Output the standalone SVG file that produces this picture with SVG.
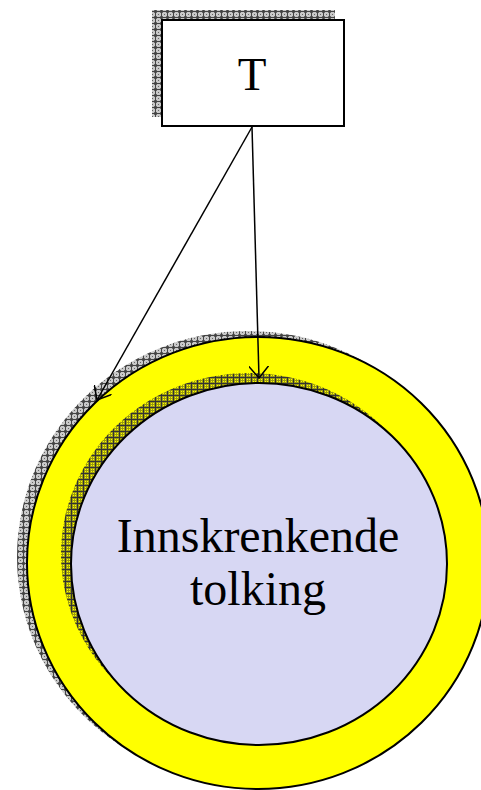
<svg xmlns="http://www.w3.org/2000/svg" width="481" height="790" viewBox="0 0 481 790">
  <defs>
    <pattern id="greyShade" width="6" height="6" patternUnits="userSpaceOnUse">
      <rect width="6" height="6" fill="#c8c8c8"/>
      <rect x="0" y="0" width="1" height="1" fill="#666"/>
      <rect x="2" y="2" width="1" height="1" fill="#666"/>
      <rect x="4" y="4" width="1" height="1" fill="#666"/>
      <rect x="4" y="0" width="1" height="1" fill="#666"/>
      <rect x="0" y="4" width="1" height="1" fill="#666"/>
      <path d="M0 5.5H6M5.5 0V6" stroke="#444" stroke-width="1"/>
    </pattern>
    <pattern id="yellowShade" width="6" height="6" patternUnits="userSpaceOnUse">
      <rect width="6" height="6" fill="#9a9a10"/>
      <rect x="1" y="1" width="1" height="1" fill="#ffff00"/>
      <rect x="3" y="3" width="1" height="1" fill="#ffff00"/>
      <rect x="1" y="3" width="1" height="1" fill="#ffff00"/>
      <rect x="3" y="1" width="1" height="1" fill="#ffff00"/>
      <path d="M0 5.5H6M5.5 0V6" stroke="#333" stroke-width="1"/>
    </pattern>
    <marker id="openArrow" markerWidth="14" markerHeight="20" refX="12" refY="10" orient="auto" markerUnits="userSpaceOnUse">
      <path d="M0 0 L12 10 L0 20" fill="none" stroke="#000" stroke-width="1.5"/>
    </marker>
    <style>
      .label { font-family: "Liberation Serif", "Times New Roman", serif; fill: #000; text-anchor: middle; }
      .edge { stroke: #000; stroke-width: 1.5; fill: none; marker-end: url(#openArrow); }
    </style>
  </defs>

  <g id="node-T">
    <rect x="152" y="10" width="183" height="107" fill="url(#greyShade)"/>
    <rect x="162" y="20" width="182" height="106" fill="#fff" stroke="#000" stroke-width="2"/>
    <text class="label" x="252" y="90" font-size="47">T</text>
  </g>

  <g id="node-outer">
    <ellipse cx="248" cy="557" rx="231" ry="226" fill="url(#greyShade)"/>
    <ellipse cx="258" cy="563" rx="231" ry="226" fill="#ffff00" stroke="#000" stroke-width="2"/>
  </g>

  <g id="node-inner">
    <ellipse cx="249" cy="554" rx="188" ry="181" fill="url(#yellowShade)"/>
    <ellipse cx="259" cy="564" rx="188" ry="181" fill="#d7d7f3" stroke="#000" stroke-width="2"/>
    <text class="label" x="258" y="552" font-size="48">Innskrenkende</text>
    <text class="label" x="258" y="605" font-size="48">tolking</text>
  </g>

  <g id="connectors">
    <line class="edge" x1="252" y1="127" x2="97" y2="400"/>
    <line class="edge" x1="252" y1="127" x2="259" y2="378"/>
  </g>
</svg>
